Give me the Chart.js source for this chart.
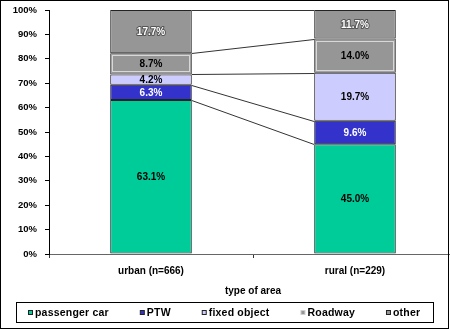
<!DOCTYPE html>
<html>
<head>
<meta charset="utf-8">
<script src="https://cdn.jsdelivr.net/npm/chart.js@4/dist/chart.umd.min.js"></script>
<style>
  html, body { margin: 0; padding: 0; background: #fff; }
  #frame { position: relative; width: 450px; height: 330px; overflow: hidden; }
  #frame canvas { position: absolute; left: 0; top: 0; }
  #edge { position: absolute; left: 0; top: 0; width: 449px; height: 329px; box-sizing: border-box; border: 1px solid #000; pointer-events: none; }
</style>
</head>
<body>
<div id="frame">
  <canvas id="c" width="460" height="330"></canvas>
  <div id="edge"></div>
</div>
<script>
// Share of accidents by opponent type, per type of area (percent)
const categories = ['urban (n=666)', 'rural (n=229)'];
const seriesNames = ['passenger car', 'PTW', 'fixed object', 'Roadway', 'other'];
const passengerCar = [63.1, 45.0];
const ptw = [6.3, 9.6];
const fixedObject = [4.2, 19.7];
const roadway = [8.7, 14.0];
const other = [17.7, 11.7];
const yTickValues = [0, 10, 20, 30, 40, 50, 60, 70, 80, 90, 100];
const yTickLabels = ['0%', '10%', '20%', '30%', '40%', '50%', '60%', '70%', '80%', '90%', '100%'];
const xTitle = 'type of area';

const FONT = '"Liberation Sans", Arial, sans-serif';
const fills = ['#00CC99', '#3333CC', '#CCCCFF', '#969696', '#969696'];
const labelInk = ['#000', '#fff', '#000', '#000', '#fff'];
const seriesValues = [passengerCar, ptw, fixedObject, roadway, other];

const datasets = seriesNames.map((name, i) => ({
  label: name,
  data: seriesValues[i],
  backgroundColor: fills[i],
  borderColor: '#222',
  borderWidth: 1,
  borderSkipped: false,
  barPercentage: 1,
  categoryPercentage: 0.4
}));

function barBox(bar) {
  const p = bar.getProps(['x', 'y', 'base', 'width'], true);
  return { left: p.x - p.width / 2, right: p.x + p.width / 2, top: Math.min(p.y, p.base), bottom: Math.max(p.y, p.base), x: p.x };
}

// Series lines joining the top of each segment across the two columns
const seriesLines = {
  id: 'seriesLines',
  beforeDatasetsDraw(chart) {
    const ctx = chart.ctx;
    ctx.save();
    ctx.strokeStyle = '#333';
    ctx.lineWidth = 1;
    chart.data.datasets.forEach((ds, i) => {
      const bars = chart.getDatasetMeta(i).data;
      for (let j = 0; j < bars.length - 1; j++) {
        const a = barBox(bars[j]);
        const b = barBox(bars[j + 1]);
        ctx.beginPath();
        ctx.moveTo(a.right, Math.round(a.top) + 0.5);
        ctx.lineTo(b.left, Math.round(b.top) + 0.5);
        ctx.stroke();
      }
    });
    ctx.restore();
  }
};

// Light inner frame on the Roadway segments, then the value labels
const segmentLabels = {
  id: 'segmentLabels',
  afterDatasetsDraw(chart) {
    const ctx = chart.ctx;
    ctx.save();
    chart.getDatasetMeta(3).data.forEach(bar => {
      const r = barBox(bar);
      ctx.strokeStyle = '#d8d8d8';
      ctx.lineWidth = 1;
      ctx.strokeRect(Math.round(r.left) + 2.5, Math.round(r.top) + 2.5,
        Math.round(r.right) - Math.round(r.left) - 5, Math.round(r.bottom) - Math.round(r.top) - 5);
    });
    ctx.font = 'bold 10px ' + FONT;
    ctx.textAlign = 'center';
    ctx.textBaseline = 'middle';
    chart.data.datasets.forEach((ds, i) => {
      chart.getDatasetMeta(i).data.forEach((bar, j) => {
        const r = barBox(bar);
        const txt = ds.data[j].toFixed(1) + '%';
        const y = (r.top + r.bottom) / 2 + 0.5;
        if (i === 4) {
          ctx.lineWidth = 2;
          ctx.strokeStyle = '#555';
          ctx.lineJoin = 'round';
          ctx.strokeText(txt, r.x, y);
        }
        ctx.fillStyle = labelInk[i];
        ctx.fillText(txt, r.x, y);
      });
    });
    ctx.restore();
  }
};

// Boxed legend along the bottom
const boxLegend = {
  id: 'boxLegend',
  afterDraw(chart) {
    const ctx = chart.ctx;
    const box = { left: 16.5, top: 302.5, right: 433.5, bottom: 322.5 };
    ctx.save();
    ctx.fillStyle = '#fff';
    ctx.strokeStyle = '#000';
    ctx.lineWidth = 1;
    ctx.fillRect(box.left, box.top, box.right - box.left, box.bottom - box.top);
    ctx.strokeRect(box.left, box.top, box.right - box.left, box.bottom - box.top);
    ctx.font = 'bold 10.5px ' + FONT;
    if ('letterSpacing' in ctx) ctx.letterSpacing = '0.2px';
    ctx.textBaseline = 'middle';
    ctx.textAlign = 'left';
    const marker = 5, gapText = 2, gapItem = 31;
    const widths = chart.data.datasets.map(ds => marker + gapText + ctx.measureText(ds.label).width);
    const total = widths.reduce((s, w) => s + w, 0) + gapItem * (widths.length - 1);
    let x = Math.round((box.left + box.right) / 2 - total / 2) - 1;
    const cy = (box.top + box.bottom) / 2;
    chart.data.datasets.forEach((ds, i) => {
      ctx.fillStyle = ds.backgroundColor;
      ctx.fillRect(x + 0.5, Math.round(cy - marker / 2) + 0.5, marker - 1, marker - 1);
      ctx.strokeStyle = i === 3 ? '#d0d0d0' : '#222';
      ctx.strokeRect(x + 0.5, Math.round(cy - marker / 2) + 0.5, marker - 1, marker - 1);
      ctx.fillStyle = '#000';
      ctx.fillText(ds.label, x + marker + gapText, cy + 0.5);
      x += widths[i] + gapItem;
    });
    ctx.restore();
  }
};

new Chart(document.getElementById('c'), {
  type: 'bar',
  data: { labels: categories, datasets },
  options: {
    responsive: false,
    animation: false,
    devicePixelRatio: 1,
    layout: { padding: { top: 10, right: 3, bottom: 33, left: 0 } },
    plugins: { legend: { display: false }, tooltip: { enabled: false } },
    scales: {
      x: {
        stacked: true,
        afterFit(scale) { scale.height = 43; },
        border: { display: true, color: '#666', width: 1 },
        grid: { display: true, offset: true, drawOnChartArea: false, drawTicks: true, tickLength: 4, color: '#333' },
        ticks: { color: '#000', padding: 7, font: { family: FONT, size: 10, weight: 'bold' } },
        title: { display: true, text: xTitle, color: '#000', padding: { top: 0, bottom: 0 }, font: { family: FONT, size: 10, weight: 'bold' } }
      },
      y: {
        stacked: true,
        min: 0,
        max: 100,
        afterFit(scale) { scale.width = 49; scale.paddingTop = 0; scale.paddingBottom = 0; },
        afterBuildTicks(scale) { scale.ticks = yTickValues.map(v => ({ value: v })); },
        border: { display: true, color: '#000', width: 1 },
        grid: { display: true, drawOnChartArea: false, drawTicks: true, tickLength: 4, color: '#000' },
        ticks: {
          color: '#000',
          padding: 8,
          font: { family: FONT, size: 9.5, weight: 'bold' },
          callback: (v) => yTickLabels[yTickValues.indexOf(v)]
        }
      }
    }
  },
  plugins: [seriesLines, segmentLabels, boxLegend]
});
</script>
</body>
</html>
